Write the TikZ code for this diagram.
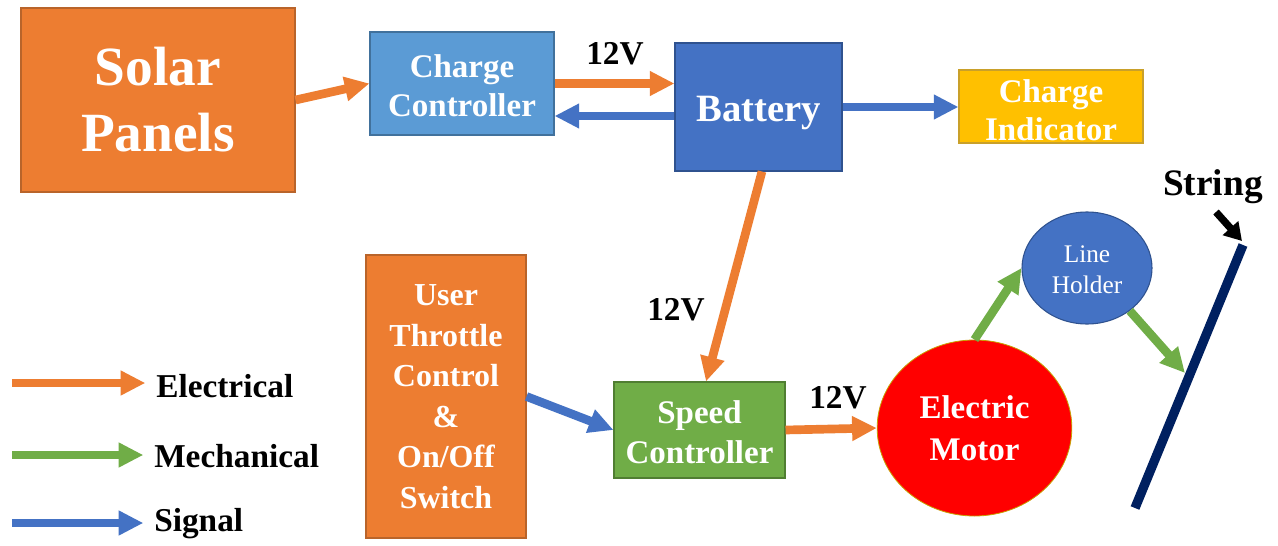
\documentclass[tikz,border=0pt]{standalone}
\usepackage{fontspec}
\setmainfont{Liberation Serif}
\usetikzlibrary{arrows.meta,shapes.geometric,calc}
\definecolor{cOrange}{HTML}{ED7D31}
\definecolor{cOrangeB}{HTML}{B9642A}
\definecolor{cLBlue}{HTML}{5B9BD5}
\definecolor{cLBlueB}{HTML}{41719C}
\definecolor{cBlue}{HTML}{4472C4}
\definecolor{cBlueB}{HTML}{2F528F}
\definecolor{cYellow}{HTML}{FFC000}
\definecolor{cYellowB}{HTML}{C9A02A}
\definecolor{cGreen}{HTML}{70AD47}
\definecolor{cGreenB}{HTML}{507E32}
\definecolor{cRed}{HTML}{FF0000}
\definecolor{cRedB}{HTML}{C8A000}
\definecolor{cNavy}{HTML}{002060}
\newcommand{\dn}[2]{\raisebox{-#1}[\height][\depth]{#2}}
\tikzset{
  box/.style={rectangle, line width=0.8pt, text=white, align=center, inner sep=0pt},
  bigtxt/.style={font=\fontsize{41.5}{49.5}\selectfont\bfseries},
  midtxt/.style={font=\fontsize{24.75}{29.25}\selectfont\bfseries},
  arr/.style={line width=6.5pt, -{Triangle[length=18.5pt,width=17.5pt]}},
  elec/.style={arr, draw=cOrange},
  mech/.style={arr, draw=cGreen},
  sig/.style={arr, draw=cBlue},
  lbl/.style={font=\fontsize{25}{30}\selectfont\bfseries, text=black, inner sep=0pt},
}
\begin{document}
\begin{tikzpicture}[x=0.75pt,y=-0.75pt]
\useasboundingbox (0,0) rectangle (1278,546);
\fill[white] (0,0) rectangle (1278,546);

% boxes
\node[box, bigtxt, fill=cOrange, draw=cOrangeB, minimum width=205.5pt, minimum height=138pt] (solar) at (158,100) {Solar\\Panels};
\node[box, midtxt, fill=cLBlue, draw=cLBlueB, minimum width=138pt, minimum height=77.25pt] (cc) at (462,83.5) {\dn{1.5pt}{Charge}\\\dn{1.5pt}{Controller}};
\node[box, font=\fontsize{29}{34}\selectfont\bfseries, fill=cBlue, draw=cBlueB, minimum width=125.25pt, minimum height=96pt] (bat) at (758.5,107) {\dn{4.5pt}{Battery}};
\node[box, font=\fontsize{24.75}{28.5}\selectfont\bfseries, fill=cYellow, draw=cYellowB, minimum width=138pt, minimum height=54.75pt] (ci) at (1051,106.5) {\dn{2.5pt}{Charge}\\\dn{2.5pt}{Indicator}};
\node[box, font=\fontsize{24}{30.4}\selectfont\bfseries, fill=cOrange, draw=cOrangeB, minimum width=120pt, minimum height=212.25pt] (user) at (446,396.5) {User\\Throttle\\Control\\\&\\On/Off\\Switch};
\node[box, font=\fontsize{24.75}{30}\selectfont\bfseries, fill=cGreen, draw=cGreenB, minimum width=128.25pt, minimum height=72pt] (speed) at (699.5,430) {\dn{1.5pt}{Speed}\\\dn{1.5pt}{Controller}};
\node[ellipse, line width=0.6pt, text=white, align=center, inner sep=0pt, font=\fontsize{24.75}{31.5}\selectfont\bfseries, fill=cRed, draw=cRedB, minimum width=146pt, minimum height=132pt] (motor) at (974.5,428) {Electric\\Motor};
\node[ellipse, line width=0.8pt, text=white, align=center, inner sep=0pt, font=\fontsize{19}{23}\selectfont, fill=cBlue, draw=cBlueB, minimum width=97.5pt, minimum height=84pt] (lh) at (1087,268) {\dn{1.5pt}{Line}\\\dn{1.5pt}{Holder}};

% labels
\node[lbl] (v1) at (615,54) {12V};
\node[lbl] (v2) at (676,310) {12V};
\node[lbl] (v3) at (838,398) {12V};
\node[lbl, font=\fontsize{28}{32}\selectfont\bfseries] (strl) at (1213,187) {String};

% string
\coordinate (strbot) at (1135,508);
\coordinate (strtop) at (1243,245);
\draw[cNavy, line width=7pt] (strbot) -- (strtop);
\coordinate (hit) at (1185,373);
\coordinate (sa) at (1216,212);
\coordinate (satip) at (1242,241);
\draw[black, line width=5.5pt, -{Triangle[length=13pt,width=15pt]}] (sa) -- (satip);

% connectors
\draw[elec] (solar.east) -- (cc.west);
\draw[elec] (cc.east) -- (cc.east -| bat.west);
\draw[sig] ([yshift=-6.75pt]bat.west) coordinate (b1) -- (b1 -| cc.east);
\draw[sig] (bat.east) -- (bat.east -| ci.west);
\draw[elec] ([xshift=2.6pt]bat.south) -- ([xshift=4.9pt]speed.north);
\draw[sig] (user.east) -- (speed.west);
\draw[elec] (speed.east) -- (motor.west);
\draw[mech] (motor.north) -- (lh.west);
\draw[mech] (lh.-45) -- (hit);

% legend
\node[lbl, anchor=west] (le) at (156,386) {Electrical};
\node[lbl, anchor=west] (lm) at (154,456) {Mechanical};
\node[lbl, anchor=west] (ls) at (154,524) {Signal};
\coordinate (le0) at (12,383);
\coordinate (lm0) at (12,455);
\coordinate (ls0) at (12,523);
\draw[elec] (le0) -- ([xshift=-8pt]le0 -| le.west);
\draw[mech] (lm0) -- ([xshift=-8pt]lm0 -| lm.west);
\draw[sig] (ls0) -- ([xshift=-8pt]ls0 -| ls.west);
\end{tikzpicture}
\end{document}
